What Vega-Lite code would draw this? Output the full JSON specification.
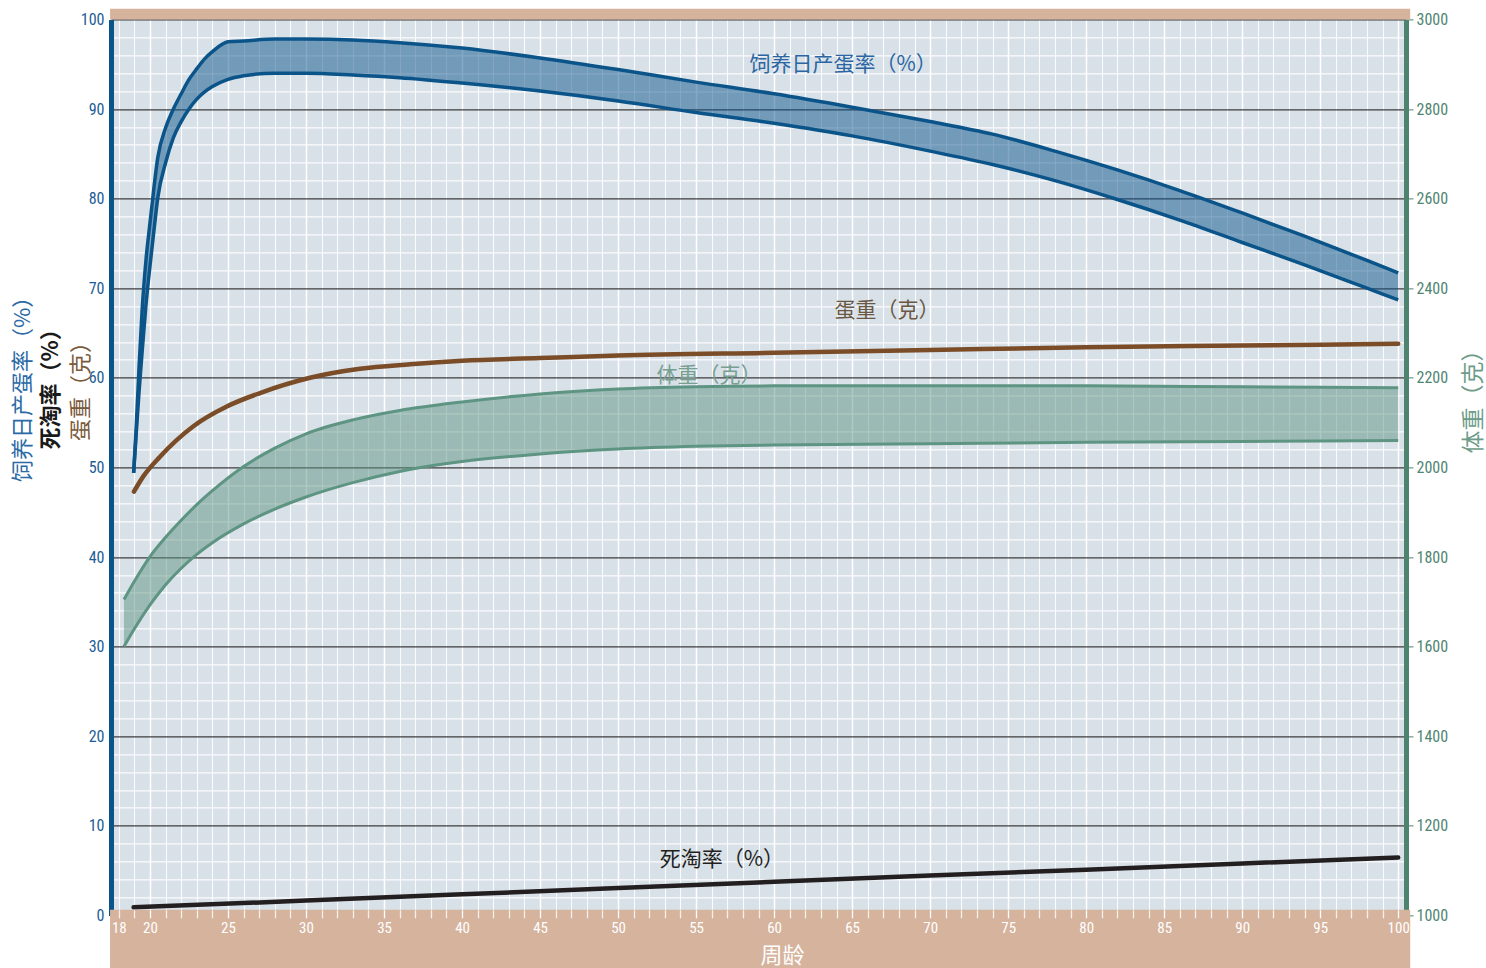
{
  "$schema": "https://vega.github.io/schema/vega-lite/v6.json",
  "width": 1295,
  "height": 896,
  "autosize": {"type": "none"},
  "padding": {"left": 111, "top": 19.4, "right": 80, "bottom": 52.6},
  "background": "#ffffff",
  "config": {
    "view": {"fill": "#d9e1e8", "stroke": null},
    "axis": {"labelFont": "Roboto Condensed, Liberation Sans Narrow, Arial Narrow, DejaVu Sans Condensed, sans-serif", "titleFont": "Noto Sans CJK SC"}
  },
  "datasets": {
    "egg": [
      {"week": 18.95, "hi": 49.4, "lo": 49.4},
      {"week": 19.1, "hi": 53.9, "lo": 53.3},
      {"week": 19.3, "hi": 61.3, "lo": 58.5},
      {"week": 19.5, "hi": 67.7, "lo": 63.0},
      {"week": 19.75, "hi": 73.3, "lo": 68.3},
      {"week": 20, "hi": 77.3, "lo": 72.5},
      {"week": 20.25, "hi": 81.2, "lo": 76.4},
      {"week": 20.5, "hi": 84.6, "lo": 80.1},
      {"week": 21, "hi": 87.9, "lo": 84.0},
      {"week": 21.5, "hi": 90.0, "lo": 86.8},
      {"week": 22, "hi": 91.7, "lo": 88.6},
      {"week": 22.5, "hi": 93.3, "lo": 90.0},
      {"week": 23, "hi": 94.5, "lo": 91.1},
      {"week": 23.5, "hi": 95.6, "lo": 91.9},
      {"week": 24, "hi": 96.4, "lo": 92.5},
      {"week": 25, "hi": 97.5, "lo": 93.3},
      {"week": 26, "hi": 97.6, "lo": 93.7},
      {"week": 28, "hi": 97.8, "lo": 94.0},
      {"week": 30, "hi": 97.8, "lo": 94.0},
      {"week": 33, "hi": 97.7, "lo": 93.8},
      {"week": 36, "hi": 97.4, "lo": 93.5},
      {"week": 40, "hi": 96.8, "lo": 92.9},
      {"week": 45, "hi": 95.7, "lo": 92.0},
      {"week": 50, "hi": 94.4, "lo": 90.9},
      {"week": 55, "hi": 93.0, "lo": 89.6},
      {"week": 60, "hi": 91.7, "lo": 88.4},
      {"week": 65, "hi": 90.2, "lo": 87.0},
      {"week": 70, "hi": 88.6, "lo": 85.3},
      {"week": 74, "hi": 87.2, "lo": 83.8},
      {"week": 78, "hi": 85.3, "lo": 82.0},
      {"week": 82, "hi": 83.2, "lo": 79.9},
      {"week": 86, "hi": 80.9, "lo": 77.6},
      {"week": 90, "hi": 78.4, "lo": 75.1},
      {"week": 94, "hi": 75.8, "lo": 72.6},
      {"week": 98, "hi": 73.1, "lo": 70.0},
      {"week": 100, "hi": 71.7, "lo": 68.7}
    ],
    "eggweight": [
      {"week": 18.97, "v": 47.3},
      {"week": 19.57, "v": 49.0},
      {"week": 20.64, "v": 51.2},
      {"week": 22.78, "v": 54.6},
      {"week": 24.92, "v": 56.8},
      {"week": 27.05, "v": 58.3},
      {"week": 30.26, "v": 60.0},
      {"week": 33.46, "v": 61.0},
      {"week": 36.67, "v": 61.5},
      {"week": 40, "v": 61.9},
      {"week": 45, "v": 62.2},
      {"week": 50, "v": 62.5},
      {"week": 60, "v": 62.8},
      {"week": 70, "v": 63.1},
      {"week": 80, "v": 63.4},
      {"week": 90, "v": 63.6},
      {"week": 100, "v": 63.8}
    ],
    "body": [
      {"week": 18.33, "hi": 1705, "lo": 1600},
      {"week": 19, "hi": 1746, "lo": 1640},
      {"week": 20, "hi": 1801, "lo": 1693},
      {"week": 21, "hi": 1844, "lo": 1738},
      {"week": 22, "hi": 1882, "lo": 1775},
      {"week": 23, "hi": 1917, "lo": 1806},
      {"week": 24, "hi": 1948, "lo": 1832},
      {"week": 26, "hi": 2002, "lo": 1874},
      {"week": 28, "hi": 2043, "lo": 1907},
      {"week": 30, "hi": 2075, "lo": 1934},
      {"week": 33, "hi": 2106, "lo": 1966},
      {"week": 36, "hi": 2127, "lo": 1991},
      {"week": 40, "hi": 2146, "lo": 2013},
      {"week": 45, "hi": 2164, "lo": 2030},
      {"week": 50, "hi": 2175, "lo": 2041},
      {"week": 55, "hi": 2180, "lo": 2047},
      {"week": 60, "hi": 2182, "lo": 2050},
      {"week": 70, "hi": 2182, "lo": 2053},
      {"week": 80, "hi": 2182, "lo": 2056},
      {"week": 90, "hi": 2180, "lo": 2058},
      {"week": 100, "hi": 2178, "lo": 2060}
    ],
    "mortality": [
      {"week": 18.95, "v": 0.9},
      {"week": 30, "v": 1.65},
      {"week": 40, "v": 2.35},
      {"week": 50, "v": 3.05},
      {"week": 60, "v": 3.75},
      {"week": 70, "v": 4.45},
      {"week": 80, "v": 5.1},
      {"week": 90, "v": 5.8},
      {"week": 100, "v": 6.45}
    ],
    "labels": [
      {"week": 64.42, "v": 94.93, "label": "饲养日产蛋率（%）"},
      {"week": 67.24, "v": 67.4, "label": "蛋重（克）"},
      {"week": 55.83, "v": 60.15, "label": "体重（克）"},
      {"week": 56.65, "v": 6.13, "label": "死淘率（%）"}
    ]
  },
  "resolve": {"scale": {"y": "independent"}, "axis": {"x": "independent", "y": "independent"}},
  "layer": [
    {
      "data": {"name": "egg"},
      "mark": {"type": "area", "fill": "#0b5489", "fillOpacity": 0.5, "interpolate": "monotone"},
      "encoding": {
        "x": {"field": "week", "type": "quantitative", "scale": {"domain": [17.5, 100.5], "nice": false, "zero": false},
          "axis": {"orient": "bottom", "values": [18,19,20,21,22,23,24,25,26,27,28,29,30,31,32,33,34,35,36,37,38,39,40,41,42,43,44,45,46,47,48,49,50,51,52,53,54,55,56,57,58,59,60,61,62,63,64,65,66,67,68,69,70,71,72,73,74,75,76,77,78,79,80,81,82,83,84,85,86,87,88,89,90,91,92,93,94,95,96,97,98,99,100],
            "grid": true, "gridColor": "#ffffff",
            "gridOpacity": {"condition": {"test": "datum.value % 5 === 0", "value": 1}, "value": 0.85},
            "gridWidth": {"condition": {"test": "datum.value % 5 === 0", "value": 1.5}, "value": 1.1},
            "labels": false, "ticks": false, "domain": false, "title": null, "zindex": 0}},
        "y": {"field": "lo", "type": "quantitative", "scale": {"domain": [0, 100], "nice": false},
          "axis": {"orient": "left", "values": [0,2,4,6,8,10,12,14,16,18,20,22,24,26,28,30,32,34,36,38,40,42,44,46,48,50,52,54,56,58,60,62,64,66,68,70,72,74,76,78,80,82,84,86,88,90,92,94,96,98,100],
            "grid": true,
            "gridColor": {"condition": {"test": "datum.value % 10 === 0", "value": "#2a2a2a"}, "value": "#ffffff"},
            "gridWidth": {"condition": {"test": "datum.value % 10 === 0", "value": 1.2}, "value": 1.4},
            "gridOpacity": 0.9,
            "labelExpr": "datum.value % 10 === 0 ? datum.label : ''",
            "labelOverlap": false, "labelFlush": false, "labelBound": false,
            "labelColor": "#1d5d96", "labelFontSize": 16, "labelPadding": 7,
            "ticks": false, "domain": true, "domainColor": "#0b5489", "domainWidth": 5,
            "title": "饲养日产蛋率（%）", "titleColor": "#2c6aa6", "titleFontSize": 22, "titleFontWeight": "normal",
            "titleAngle": -90, "titleX": -89, "titleY": 364, "titleAlign": "center", "titleBaseline": "middle", "zindex": 0}},
        "y2": {"field": "hi"}
      }
    },
    {
      "data": {"name": "egg"},
      "mark": {"type": "line", "color": "#0b5489", "strokeWidth": 3.5, "interpolate": "monotone"},
      "encoding": {
        "x": {"field": "week", "type": "quantitative", "scale": {"domain": [17.5, 100.5], "nice": false, "zero": false}, "axis": null},
        "y": {"field": "hi", "type": "quantitative", "scale": {"domain": [0, 100], "nice": false}, "axis": null}
      }
    },
    {
      "data": {"name": "egg"},
      "mark": {"type": "line", "color": "#0b5489", "strokeWidth": 3.5, "interpolate": "monotone"},
      "encoding": {
        "x": {"field": "week", "type": "quantitative", "scale": {"domain": [17.5, 100.5], "nice": false, "zero": false}, "axis": null},
        "y": {"field": "lo", "type": "quantitative", "scale": {"domain": [0, 100], "nice": false}, "axis": null}
      }
    },
    {
      "data": {"name": "body"},
      "mark": {"type": "area", "fill": "#5e9482", "fillOpacity": 0.5, "interpolate": "monotone"},
      "encoding": {
        "x": {"field": "week", "type": "quantitative", "scale": {"domain": [17.5, 100.5], "nice": false, "zero": false}, "axis": null},
        "y": {"field": "lo", "type": "quantitative", "scale": {"domain": [1000, 3000], "nice": false, "zero": false},
          "axis": {"orient": "right", "values": [1000,1200,1400,1600,1800,2000,2200,2400,2600,2800,3000], "format": "d",
            "grid": false, "labelColor": "#4f8672", "labelFontSize": 16, "labelPadding": 3, "labelOverlap": false, "labelFlush": false, "labelBound": false,
            "ticks": true, "tickSize": 7, "tickColor": "#4e8370", "tickWidth": 1,
            "domain": true, "domainColor": "#4e8370", "domainWidth": 5,
            "title": "体重（克）", "titleColor": "#6d9c8a", "titleFontSize": 23, "titleFontWeight": "normal",
            "titleAngle": -90, "titleX": 67, "titleY": 376, "titleAlign": "center", "titleBaseline": "middle", "zindex": 0}},
        "y2": {"field": "hi"}
      }
    },
    {
      "data": {"name": "body"},
      "mark": {"type": "line", "color": "#5e9482", "strokeWidth": 3, "interpolate": "monotone"},
      "encoding": {
        "x": {"field": "week", "type": "quantitative", "scale": {"domain": [17.5, 100.5], "nice": false, "zero": false}, "axis": null},
        "y": {"field": "hi", "type": "quantitative", "scale": {"domain": [1000, 3000], "nice": false, "zero": false}, "axis": null}
      }
    },
    {
      "data": {"name": "body"},
      "mark": {"type": "line", "color": "#5e9482", "strokeWidth": 3, "interpolate": "monotone"},
      "encoding": {
        "x": {"field": "week", "type": "quantitative", "scale": {"domain": [17.5, 100.5], "nice": false, "zero": false}, "axis": null},
        "y": {"field": "lo", "type": "quantitative", "scale": {"domain": [1000, 3000], "nice": false, "zero": false}, "axis": null}
      }
    },
    {
      "data": {"name": "eggweight"},
      "mark": {"type": "line", "color": "#7a4c27", "strokeWidth": 4.5, "strokeCap": "round", "interpolate": "monotone"},
      "encoding": {
        "x": {"field": "week", "type": "quantitative", "scale": {"domain": [17.5, 100.5], "nice": false, "zero": false}, "axis": null},
        "y": {"field": "v", "type": "quantitative", "scale": {"domain": [0, 100], "nice": false},
          "axis": {"orient": "left", "grid": false, "labels": false, "ticks": false, "domain": false,
            "title": "蛋重（克）", "titleColor": "#7a5a3c", "titleFontSize": 22, "titleFontWeight": "normal",
            "titleAngle": -90, "titleX": -31, "titleY": 366, "titleAlign": "center", "titleBaseline": "middle", "zindex": 0}}
      }
    },
    {
      "data": {"name": "mortality"},
      "mark": {"type": "line", "color": "#231f20", "strokeWidth": 4.5, "strokeCap": "round"},
      "encoding": {
        "x": {"field": "week", "type": "quantitative", "scale": {"domain": [17.5, 100.5], "nice": false, "zero": false},
          "axis": {"orient": "bottom", "offset": -5.6, "values": [18,19,20,21,22,23,24,25,26,27,28,29,30,31,32,33,34,35,36,37,38,39,40,41,42,43,44,45,46,47,48,49,50,51,52,53,54,55,56,57,58,59,60,61,62,63,64,65,66,67,68,69,70,71,72,73,74,75,76,77,78,79,80,81,82,83,84,85,86,87,88,89,90,91,92,93,94,95,96,97,98,99,100],
            "grid": false, "domain": false, "ticks": true, "tickColor": "#ffffff", "tickSize": 8, "tickWidth": 1.3,
            "tickOpacity": {"condition": {"test": "datum.value % 5 === 0", "value": 1}, "value": 0.8},
            "labelExpr": "datum.value === 18 || datum.value % 5 === 0 ? datum.label : ''",
            "labelOverlap": false, "labelFlush": false, "labelBound": false,
            "labelColor": "#ffffff", "labelFontSize": 15, "labelPadding": 3,
            "title": "周龄", "titleColor": "#ffffff", "titleFontSize": 22, "titleFontWeight": "normal",
            "titleX": 671, "titleY": 46, "titleAlign": "center", "titleBaseline": "middle", "zindex": 1}},
        "y": {"field": "v", "type": "quantitative", "scale": {"domain": [0, 100], "nice": false},
          "axis": {"orient": "left", "grid": false, "labels": false, "ticks": false, "domain": false,
            "title": "死淘率（%）", "titleColor": "#1a1a1a", "titleFontSize": 22, "titleFontWeight": "bold",
            "titleAngle": -90, "titleX": -61, "titleY": 364, "titleAlign": "center", "titleBaseline": "middle", "zindex": 0}}
      }
    },
    {
      "data": {"values": [{}]},
      "mark": {"type": "rect", "color": "#d5b39d"},
      "encoding": {
        "x": {"datum": 17.44, "type": "quantitative", "scale": {"domain": [17.5, 100.5], "nice": false, "zero": false}, "axis": null},
        "x2": {"datum": 100.77},
        "y": {"datum": 100, "type": "quantitative", "scale": {"domain": [0, 100], "nice": false}, "axis": null},
        "y2": {"datum": 101.2}
      }
    },
    {
      "data": {"values": [{}]},
      "mark": {"type": "rect", "color": "#d5b39d"},
      "encoding": {
        "x": {"datum": 17.44, "type": "quantitative", "scale": {"domain": [17.5, 100.5], "nice": false, "zero": false}, "axis": null},
        "x2": {"datum": 100.77},
        "y": {"datum": 0.62, "type": "quantitative", "scale": {"domain": [0, 100], "nice": false}, "axis": null},
        "y2": {"datum": -5.9}
      }
    },
    {
      "data": {"name": "labels"},
      "mark": {"type": "text", "font": "Noto Sans CJK SC", "fontSize": 21, "align": "center", "baseline": "middle"},
      "encoding": {
        "x": {"field": "week", "type": "quantitative", "scale": {"domain": [17.5, 100.5], "nice": false, "zero": false}, "axis": null},
        "y": {"field": "v", "type": "quantitative", "scale": {"domain": [0, 100], "nice": false}, "axis": null},
        "text": {"field": "label"},
        "color": {"field": "label", "type": "nominal", "legend": null,
          "scale": {"domain": ["饲养日产蛋率（%）", "蛋重（克）", "体重（克）", "死淘率（%）"], "range": ["#2b66a3", "#6b5844", "#77a090", "#231f20"]}}
      }
    }
  ]
}
